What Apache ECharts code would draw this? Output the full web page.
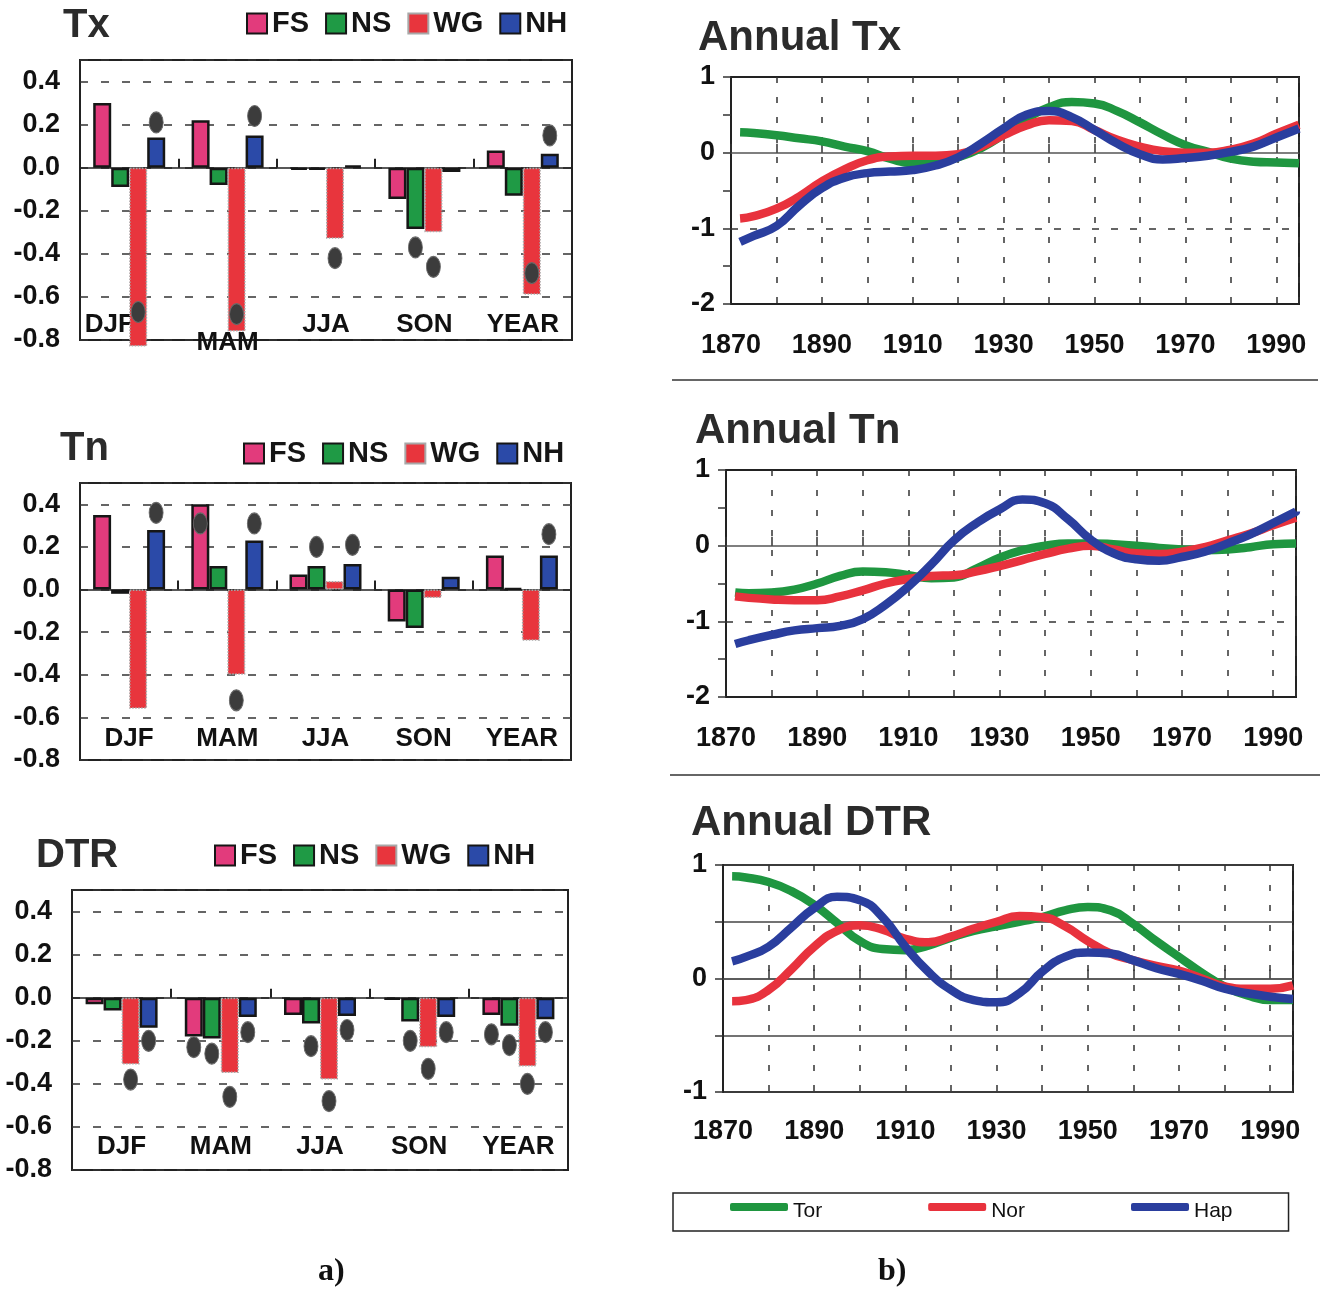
<!DOCTYPE html>
<html><head><meta charset="utf-8">
<script src="https://cdn.jsdelivr.net/npm/echarts@6/dist/echarts.min.js"></script>
<style>html,body{margin:0;padding:0;background:#fff}#c{width:1324px;height:1293px}</style>
</head><body><div id="c"></div>
<script>
// ---------- categories ----------
const seasons = ['DJF', 'MAM', 'JJA', 'SON', 'YEAR'];
const groupNames = ['FS', 'NS', 'WG', 'NH'];
const lineNames = ['Tor', 'Nor', 'Hap'];

// ---------- Tx bars ----------
const txFS = [0.30, 0.22, -0.01, -0.145, 0.08];
const txNS = [-0.09, -0.08, -0.01, -0.285, -0.13];
const txWG = [-0.83, -0.76, -0.33, -0.30, -0.59];
const txNH = [0.14, 0.15, 0.01, -0.02, 0.065];
const txDotFS = [null, null, null, null, null];
const txDotNS = [null, null, null, -0.37, null];
const txDotWG = [-0.67, -0.68, -0.42, -0.46, -0.49];
const txDotNH = [0.21, 0.24, null, null, 0.15];

// ---------- Tn bars ----------
const tnFS = [0.35, 0.40, 0.07, -0.15, 0.16];
const tnNS = [-0.02, 0.11, 0.11, -0.18, 0.005];
const tnWG = [-0.56, -0.40, 0.04, -0.04, -0.24];
const tnNH = [0.28, 0.23, 0.12, 0.06, 0.16];
const tnDotFS = [null, 0.31, null, null, null];
const tnDotNS = [null, null, 0.20, null, null];
const tnDotWG = [null, -0.52, null, null, null];
const tnDotNH = [0.36, 0.31, 0.21, null, 0.26];

// ---------- DTR bars ----------
const dtrFS = [-0.03, -0.18, -0.08, -0.01, -0.08];
const dtrNS = [-0.06, -0.19, -0.12, -0.11, -0.13];
const dtrWG = [-0.31, -0.35, -0.38, -0.23, -0.32];
const dtrNH = [-0.14, -0.09, -0.085, -0.09, -0.10];
const dtrDotFS = [null, -0.23, null, null, -0.17];
const dtrDotNS = [null, -0.26, -0.225, -0.20, -0.22];
const dtrDotWG = [-0.38, -0.46, -0.48, -0.33, -0.40];
const dtrDotNH = [-0.20, -0.16, -0.15, -0.16, -0.16];

// ---------- annual curves ----------
const years = [1872, 1875, 1880, 1885, 1890, 1895, 1900, 1905, 1910, 1915, 1920, 1925, 1930,
               1935, 1940, 1945, 1950, 1955, 1960, 1965, 1970, 1975, 1980, 1985, 1990, 1995];
const aTxTor = [0.27, 0.26, 0.23, 0.19, 0.15, 0.08, 0.02, -0.08, -0.14, -0.13, -0.06, 0.06, 0.24,
                0.45, 0.60, 0.67, 0.65, 0.55, 0.40, 0.24, 0.10, 0.01, -0.08, -0.12, -0.13, -0.14];
const aTxNor = [-0.87, -0.84, -0.74, -0.58, -0.38, -0.22, -0.10, -0.05, -0.04, -0.04, -0.02, 0.08, 0.23,
                0.36, 0.43, 0.42, 0.30, 0.17, 0.08, 0.02, 0.00, 0.00, 0.04, 0.12, 0.25, 0.37];
const aTxHap = [-1.18, -1.10, -0.97, -0.70, -0.47, -0.33, -0.27, -0.25, -0.23, -0.17, -0.06, 0.12, 0.32,
                0.50, 0.55, 0.47, 0.30, 0.12, -0.02, -0.09, -0.07, -0.04, 0.01, 0.08, 0.20, 0.32];
const aTnTor = [-0.62, -0.63, -0.62, -0.58, -0.50, -0.40, -0.34, -0.35, -0.39, -0.43, -0.42, -0.30, -0.16,
                -0.06, 0.00, 0.03, 0.03, 0.02, 0.00, -0.03, -0.05, -0.06, -0.05, -0.02, 0.02, 0.03];
const aTnNor = [-0.67, -0.69, -0.71, -0.72, -0.72, -0.67, -0.59, -0.50, -0.44, -0.40, -0.39, -0.34, -0.27,
                -0.19, -0.11, -0.04, 0.00, -0.05, -0.10, -0.11, -0.08, -0.02, 0.07, 0.16, 0.27, 0.37];
const aTnHap = [-1.30, -1.25, -1.18, -1.12, -1.09, -1.06, -0.97, -0.78, -0.54, -0.25, 0.07, 0.30, 0.48,
                0.61, 0.56, 0.35, 0.08, -0.10, -0.18, -0.20, -0.15, -0.08, 0.03, 0.15, 0.30, 0.45];
const aDtrTor = [0.90, 0.89, 0.85, 0.77, 0.65, 0.49, 0.33, 0.26, 0.25, 0.29, 0.36, 0.42, 0.46,
                 0.50, 0.54, 0.60, 0.63, 0.60, 0.48, 0.33, 0.19, 0.05, -0.07, -0.15, -0.19, -0.19];
const aDtrNor = [-0.20, -0.19, -0.10, 0.08, 0.28, 0.42, 0.47, 0.43, 0.35, 0.32, 0.37, 0.44, 0.50,
                 0.55, 0.54, 0.46, 0.33, 0.22, 0.16, 0.11, 0.07, 0.00, -0.07, -0.09, -0.09, -0.06];
const aDtrHap = [0.15, 0.19, 0.28, 0.45, 0.62, 0.72, 0.69, 0.54, 0.28, 0.06, -0.10, -0.19, -0.21,
                 -0.13, 0.06, 0.19, 0.23, 0.22, 0.16, 0.09, 0.04, -0.02, -0.09, -0.13, -0.16, -0.18];

// ---------- styling ----------
const FONT = '"Liberation Sans", Arial, Helvetica, sans-serif';
const barColors = { FS: '#e23b7c', NS: '#1f9a45', WG: '#e8353d', NH: '#2b4aa8' };
const lineColors = { Tor: '#1f9640', Nor: '#e8323d', Hap: '#2a3e9e' };
const BW = 18;
const offsets = { FS: -1.5 * BW, NS: -0.5 * BW, WG: 0.5 * BW, NH: 1.5 * BW };

const barPanels = [
  { title: 'Tx', tl: 63, tt: 6, ll: 246, lt: 9, grid: { left: 80, top: 60, width: 492, height: 280 },
    bars: [txFS, txNS, txWG, txNH], dots: [txDotFS, txDotNS, txDotWG, txDotNH], margin: -28,
    special: { MAM: 'low', DJF: 'left' } },
  { title: 'Tn', tl: 60, tt: 429, ll: 243, lt: 439, grid: { left: 80, top: 483, width: 491, height: 277 },
    bars: [tnFS, tnNS, tnWG, tnNH], dots: [tnDotFS, tnDotNS, tnDotWG, tnDotNH], margin: -34, special: {} },
  { title: 'DTR', tl: 36, tt: 836, ll: 214, lt: 841, grid: { left: 72, top: 890, width: 496, height: 280 },
    bars: [dtrFS, dtrNS, dtrWG, dtrNH], dots: [dtrDotFS, dtrDotNS, dtrDotWG, dtrDotNH], margin: -36, special: {} }
];

const linePanels = [
  { title: 'Annual Tx', tl: 698, tt: 17, grid: { left: 731, top: 77, width: 568, height: 227 },
    min: -2, max: 1, vals: [aTxTor, aTxNor, aTxHap], dashedMinus1: true, hsplit: false, lm: 28 },
  { title: 'Annual Tn', tl: 695, tt: 410, grid: { left: 726, top: 470, width: 570, height: 227 },
    min: -2, max: 1, vals: [aTnTor, aTnNor, aTnHap], dashedMinus1: true, hsplit: false, lm: 28 },
  { title: 'Annual DTR', tl: 691, tt: 802, grid: { left: 723, top: 865, width: 570, height: 227 },
    min: -1, max: 1, vals: [aDtrTor, aDtrNor, aDtrHap], dashedMinus1: false, hsplit: true, lm: 26 }
];

const titles = [], legends = [], grids = [], xAxes = [], yAxes = [], series = [];
const boldLabel = { fontFamily: FONT, fontWeight: 'bold', color: '#111' };

barPanels.forEach((p, gi) => {
  titles.push({ text: p.title, left: p.tl, top: p.tt, padding: 0,
    textStyle: { fontFamily: FONT, fontWeight: 'bold', fontSize: 40, color: '#2b2b2b' } });
  legends.push({ data: groupNames, left: p.ll, top: p.lt, padding: 0, icon: 'rect',
    itemWidth: 20, itemHeight: 20, itemGap: 16, selectedMode: false,
    textStyle: { fontFamily: FONT, fontWeight: 'bold', fontSize: 29, color: '#151515' } });
  grids.push(Object.assign({ show: true, borderColor: '#222', borderWidth: 2, backgroundColor: 'transparent' }, p.grid));
  const xa = xAxes.length;
  xAxes.push({ type: 'category', data: seasons, gridIndex: gi, position: 'top',
    axisLine: { onZero: true, lineStyle: { color: '#222', width: 1.5 } },
    axisTick: { show: true, interval: 0, length: 9, lineStyle: { color: '#222', width: 2 } },
    axisLabel: { show: false }, splitLine: { show: false } });
  const sp = p.special;
  xAxes.push({ type: 'category', data: seasons, gridIndex: gi, position: 'bottom',
    axisLine: { show: false, onZero: false }, axisTick: { show: false },
    axisLabel: { interval: 0, margin: p.margin,
      formatter: v => '{' + (sp[v] || 'n') + '|' + v + '}',
      rich: { n: Object.assign({ fontSize: 26 }, boldLabel),
              low: Object.assign({ fontSize: 26, padding: [18, 0, 0, 0] }, boldLabel),
              left: Object.assign({ fontSize: 26, padding: [0, 40, 0, 0] }, boldLabel) } } });
  yAxes.push({ type: 'value', gridIndex: gi, min: -0.8, max: 0.5, interval: 0.2,
    axisLine: { show: false }, axisTick: { show: false },
    axisLabel: Object.assign({ fontSize: 27, margin: 20, showMaxLabel: false,
      formatter: v => (Math.abs(v) < 1e-9 ? '0.0' : v.toFixed(1)) }, boldLabel),
    splitLine: { show: true, lineStyle: { type: [8, 13], color: '#333', width: 1.5 } } });
  groupNames.forEach((g, si) => {
    series.push({ type: 'bar', name: g, xAxisIndex: xa, yAxisIndex: gi, data: p.bars[si],
      barWidth: BW, barGap: '0%', clip: false, z: 3,
      itemStyle: g === 'WG'
        ? { color: barColors[g], borderColor: '#a8a8a8', borderWidth: 1.5, borderType: 'dotted' }
        : { color: barColors[g], borderColor: '#161616', borderWidth: 2.5 } });
  });
  groupNames.forEach((g, si) => {
    series.push({ type: 'scatter', name: 'sig', xAxisIndex: xa, yAxisIndex: gi,
      data: p.dots[si].map(v => (v === null ? '-' : v)),
      symbol: 'circle', symbolSize: [14, 21], symbolOffset: [offsets[g], 0], z: 5,
      itemStyle: { color: '#3c3c3c', borderColor: '#6a6a6a', borderWidth: 1, opacity: 1 } });
  });
});

linePanels.forEach((p, k) => {
  const gi = barPanels.length + k;
  titles.push({ text: p.title, left: p.tl, top: p.tt, padding: 0,
    textStyle: { fontFamily: FONT, fontWeight: 'bold', fontSize: 42, color: '#2b2b2b' } });
  grids.push(Object.assign({ show: true, borderColor: '#222', borderWidth: 2, backgroundColor: 'transparent' }, p.grid));
  const xa = xAxes.length;
  xAxes.push({ type: 'value', gridIndex: gi, min: 1870, max: 1995, interval: 10, position: 'bottom',
    axisLine: { show: false, onZero: false }, axisTick: { show: false },
    axisLabel: Object.assign({ fontSize: 27, margin: p.lm, showMaxLabel: false,
      formatter: v => (((v - 1870) % 20 === 0 && v <= 1990) ? String(v) : '') }, boldLabel),
    splitLine: { show: true, lineStyle: { type: [6, 14], color: '#333', width: 1.5 } } });
  xAxes.push({ type: 'value', gridIndex: gi, min: 1870, max: 1995, interval: 10, position: 'top',
    axisLine: { show: true, onZero: true, lineStyle: { color: '#555', width: 1.5 } },
    axisTick: { show: true, length: 9, lineStyle: { color: '#333', width: 1.5 } },
    axisLabel: { show: false }, splitLine: { show: false } });
  yAxes.push({ type: 'value', gridIndex: gi, min: p.min, max: p.max, interval: 0.5,
    axisLine: { show: true, lineStyle: { color: '#222', width: 2 } },
    axisTick: { show: true, length: 8, lineStyle: { color: '#333', width: 1.5 } },
    axisLabel: Object.assign({ fontSize: 27, margin: 16,
      formatter: v => (Math.abs(v - Math.round(v)) < 1e-9 ? String(Math.round(v)) : '') }, boldLabel),
    splitLine: { show: p.hsplit, lineStyle: { type: 'solid', color: '#444', width: 1.5 } } });
  lineNames.forEach((n, si) => {
    const s = { type: 'line', name: n, xAxisIndex: xa, yAxisIndex: gi, smooth: 0.5,
      symbol: 'none', data: years.map((y, i) => [y, p.vals[si][i]]), z: 4 + si,
      lineStyle: { color: lineColors[n], width: 8.5 }, itemStyle: { color: lineColors[n] } };
    if (si === 0 && p.dashedMinus1) {
      s.markLine = { silent: true, symbol: 'none', label: { show: false }, animation: false,
        lineStyle: { type: [7, 12], color: '#333', width: 1.5 }, data: [{ yAxis: -1 }] };
    }
    series.push(s);
  });
});

legends.push({ data: lineNames, left: 673, top: 1193, icon: 'roundRect', itemWidth: 58, itemHeight: 8,
  itemGap: 106, padding: [8, 56, 9, 57], borderColor: '#222', borderWidth: 1.5, selectedMode: false,
  formatter: name => '{t|' + name + '}',
  textStyle: { fontFamily: FONT, fontSize: 21, color: '#111',
    rich: { t: { fontFamily: FONT, fontSize: 21, color: '#111', padding: [9, 0, 0, 0] } } } });

titles.push({ text: 'a)', left: 318, top: 1256, padding: 0,
  textStyle: { fontFamily: '"Liberation Serif", "DejaVu Serif", serif', fontWeight: 'bold', fontSize: 32, color: '#111' } });
titles.push({ text: 'b)', left: 878, top: 1256, padding: 0,
  textStyle: { fontFamily: '"Liberation Serif", "DejaVu Serif", serif', fontWeight: 'bold', fontSize: 32, color: '#111' } });

const chart = echarts.init(document.getElementById('c'));
chart.setOption({
  animation: false,
  backgroundColor: '#ffffff',
  title: titles,
  legend: legends,
  grid: grids,
  xAxis: xAxes,
  yAxis: yAxes,
  series: series,
  graphic: [
    { type: 'line', shape: { x1: 672, y1: 380, x2: 1318, y2: 380 }, style: { stroke: '#333', lineWidth: 1.5 } },
    { type: 'line', shape: { x1: 670, y1: 775, x2: 1320, y2: 775 }, style: { stroke: '#333', lineWidth: 1.5 } }
  ]
});
</script>
</body></html>
